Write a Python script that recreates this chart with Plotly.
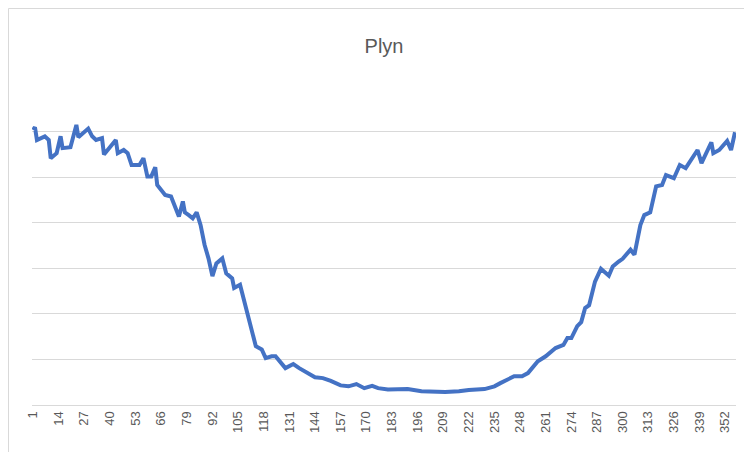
import plotly.graph_objects as go

days = [1,2,3,7,9,10,13,15,16,20,23,24,29,31,33,36,37,43,44,47,49,51,55,57,59,61,63,64,68,71,73,75,77,78,80,82,84,86,88,90,92,94,97,99,102,103,106,108,111,114,117,119,122,124,129,133,136,140,144,148,152,157,161,165,169,173,176,181,186,191,198,205,210,217,222,230,235,238,241,245,249,252,257,261,266,270,272,274,277,279,281,283,286,289,293,295,298,300,304,306,309,311,314,317,320,322,326,329,332,338,340,345,346,349,353,355,357]
values = [6.04,6.1,5.82,5.9,5.82,5.42,5.53,5.9,5.64,5.66,6.15,5.88,6.07,5.9,5.82,5.86,5.5,5.82,5.53,5.6,5.53,5.27,5.27,5.42,5.02,5.02,5.22,4.83,4.61,4.58,4.36,4.14,4.47,4.23,4.17,4.1,4.23,3.95,3.52,3.22,2.83,3.11,3.22,2.89,2.78,2.57,2.64,2.28,1.76,1.29,1.22,1.03,1.07,1.07,0.81,0.9,0.81,0.70,0.61,0.59,0.53,0.43,0.41,0.46,0.37,0.42,0.37,0.34,0.34,0.35,0.30,0.285,0.285,0.30,0.33,0.35,0.41,0.48,0.55,0.63,0.63,0.70,0.96,1.07,1.25,1.32,1.47,1.47,1.73,1.82,2.13,2.19,2.71,2.99,2.84,3.04,3.15,3.21,3.41,3.30,3.95,4.17,4.23,4.80,4.83,5.05,4.98,5.27,5.20,5.60,5.31,5.77,5.53,5.60,5.80,5.60,5.99]
tick_labels = [1,14,27,40,53,66,79,92,105,118,131,144,157,170,183,196,209,222,235,248,261,274,287,300,313,326,339,352]

fig = go.Figure(go.Scatter(x=days, y=values, mode="lines", cliponaxis=False,
                           line=dict(color="#4472C4", width=4, shape="linear")))
fig.update_layout(
    width=752, height=452,
    margin=dict(l=24, r=24, t=78, b=55, autoexpand=False),
    paper_bgcolor="white", plot_bgcolor="white",
    font=dict(family="Liberation Sans, Arial", color="#595959"),
    title=dict(text="Plyn", x=0.5, xanchor="center", y=0.915, yanchor="middle",
               font=dict(size=20, color="#595959")),
    showlegend=False,
    xaxis=dict(range=[0.5, 357.5], tickmode="array", tickvals=tick_labels,
               ticktext=[str(t) for t in tick_labels], tickangle=-90,
               tickfont=dict(size=13, color="#595959"), showgrid=False,
               showline=True, linecolor="#D9D9D9", linewidth=1, zeroline=False,
               ticks="", automargin=False),
    yaxis=dict(range=[0, 7.005], tickmode="array", tickvals=[1,2,3,4,5,6,7],
               showticklabels=False, showgrid=True, automargin=False,
               gridcolor="#D9D9D9", gridwidth=1, zeroline=False, showline=False),
    shapes=[dict(type="rect", xref="paper", yref="paper",
                 x0=-23.5/704, x1=1+23.5/704, y0=-54.5/319, y1=1+77.5/319,
                 line=dict(color="#D9D9D9", width=1))],
)
fig.write_html("out.html")
